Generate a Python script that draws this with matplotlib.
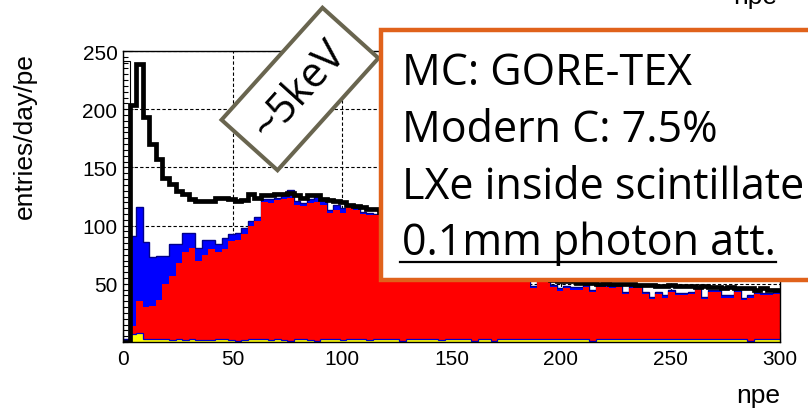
import numpy as np
import matplotlib
matplotlib.use('Agg')
import matplotlib.pyplot as plt
from matplotlib.patches import Rectangle
from matplotlib.lines import Line2D
from matplotlib.ticker import MultipleLocator

plt.rcParams['font.family'] = 'Liberation Sans'

# npe spectrum, 100 bins of 3 pe from 0 to 300
edges = np.arange(0, 301, 3)

# total (thick black line)
total = [
    0, 204, 239, 193, 170, 157, 141, 136, 130, 127,
    123, 121, 121, 121, 124, 124, 123, 121, 122, 127,
    124, 126, 126, 127, 127, 128, 126, 124, 126, 126,
    123, 122, 121, 120, 118, 117, 116, 114, 114, 112,
    110, 107, 104, 101, 98, 95, 92, 89, 86, 83,
    80, 78, 75, 72, 70, 67, 65, 63, 61, 59,
    58, 57, 56, 55, 54, 53, 52, 52, 52, 51,
    51, 51, 50, 51, 50, 50, 50, 50, 49, 49,
    49, 48, 48, 49, 48, 48, 48, 47, 48, 47,
    47, 46, 47, 46, 46, 46, 45, 46, 45, 45,
]

# blue component
blue = [
    3, 91, 116, 86, 73, 74, 74, 84, 84, 94,
    94, 81, 88, 88, 84, 89, 93, 94, 98, 104,
    107, 123, 123, 124, 126, 131, 121, 119, 123, 126,
    122, 113, 118, 115, 118, 115, 112, 111, 110, 110,
    108, 105, 102, 99, 96, 93, 90, 87, 84, 81,
    78, 76, 73, 70, 68, 65, 63, 61, 59, 58,
    57, 56, 48, 55, 54, 49, 46, 48, 47, 47,
    49, 45, 49, 49, 48, 49, 43, 48, 48, 43,
    39, 43, 40, 45, 42, 42, 43, 48, 39, 45,
    45, 40, 40, 45, 38, 40, 43, 42, 42, 43,
]

# red component
red = [
    0, 14, 35, 30, 31, 36, 50, 57, 68, 77,
    81, 70, 75, 80, 77, 80, 87, 88, 93, 100,
    104, 120, 119, 122, 123, 124, 118, 117, 119, 120,
    118, 111, 113, 111, 116, 113, 110, 109, 109, 108,
    106, 103, 100, 97, 94, 91, 88, 85, 82, 79,
    76, 74, 71, 68, 66, 63, 61, 59, 57, 56,
    55, 54, 46, 53, 52, 47, 44, 46, 45, 45,
    47, 43, 47, 47, 46, 47, 41, 46, 46, 41,
    37, 41, 38, 43, 40, 40, 41, 46, 37, 43,
    43, 38, 38, 43, 36, 38, 41, 40, 40, 41,
]

# yellow component
yellow = [
    0, 7, 8, 3, 3, 2.5, 2.5, 2, 2.5, 2,
    2.5, 2, 2, 2, 2.5, 2.5, 2, 1, 2, 2.5,
    2.5, 2.5, 2, 2.5, 2, 1, 2.5, 2.5, 2, 1,
    2.5, 2.5, 2.5, 2, 2.5, 2.5, 2.5, 2, 2.5, 2.5,
    2.5, 2.5, 1, 2.5, 2.5, 2.5, 2.5, 2.5, 2, 2.5,
    2.5, 2.5, 2.5, 1, 2.5, 2.5, 1, 2.5, 2.5, 2.5,
    2.5, 2.5, 2.5, 2.5, 2.5, 2.5, 2.5, 2.5, 2.5, 2.5,
    2.5, 1, 2.5, 2.5, 2.5, 2.5, 2.5, 2.5, 2.5, 2.5,
    2.5, 2.5, 2.5, 2.5, 2.5, 2.5, 2.5, 2.5, 2.5, 2.5,
    2.5, 2.5, 2.5, 2.5, 2.5, 1, 2.5, 2.5, 2.5, 2.5,
]

# first-bin outline
first_bin = [241]

box_lines = ['MC: GORE-TEX', 'Modern C: 7.5%', 'LXe inside scintillate', '0.1mm photon att.']

W, H = 808, 414
fig = plt.figure(figsize=(W / 100, H / 100), dpi=100)
ax = fig.add_axes([123 / W, 1 - 343 / H, 657 / W, 291 / H])

ax.stairs(blue, edges, fill=True, color='#0000ff', zorder=2)
ax.stairs(blue, edges, color='#00008b', lw=1.0, baseline=None, zorder=2.1)
ax.stairs(red, edges, fill=True, color='#ff0000', zorder=2.2)
ax.stairs(yellow, edges, fill=True, color='#ffff00', zorder=2.3)
ax.stairs(yellow, edges, color='#0000cc', lw=0.9, baseline=None, zorder=2.4)
ax.stairs(first_bin, edges[:2], color='k', lw=0.8, zorder=2.5)
ax.stairs(total, edges, color='k', lw=3.4, baseline=None, zorder=3)

ax.set_xlim(0, 300)
ax.set_ylim(0, 250)
ax.set_axisbelow(True)
ax.grid(True, which='major', color='k', lw=0.8, linestyle=(0, (3, 2)))
ax.set_xticks(range(0, 301, 50))
ax.set_yticks(range(50, 251, 50))
ax.xaxis.set_minor_locator(MultipleLocator(10))
ax.yaxis.set_minor_locator(MultipleLocator(5))
ax.tick_params(which='major', direction='in', length=7, width=0.8, labelsize=15)
ax.tick_params(which='minor', direction='in', length=3.5, width=0.8)
ax.tick_params(axis='x', pad=5)
ax.tick_params(axis='y', pad=4)
for s in ax.spines.values():
    s.set_linewidth(1.0)

fig.text(25 / W, 1 - 53 / H, 'entries/day/pe', rotation=90, ha='center', va='top', fontsize=19)
fig.text(780 / W, 1 - 403 / H, 'npe', ha='right', va='baseline', fontsize=19)
fig.text(777 / W, 1 - 4 / H, 'npe', ha='right', va='baseline', fontsize=19)

# tilted energy marker
fig.text(300 / W, 1 - 90 / H, '~5keV', rotation=48, rotation_mode='anchor',
         ha='center', va='center', fontsize=30, family='Open Sans', zorder=9,
         bbox=dict(boxstyle='square,pad=0.4', fc='white', ec='#69654f', lw=2.9))

# simulation settings box
fig.add_artist(Rectangle((381 / W, 1 - 281 / H), (900 - 381) / W, 250 / H,
                         transform=fig.transFigure, fc='white', ec='#e0621b',
                         lw=3.2, zorder=10))
baselines = [85, 142, 199, 255]
texts = []
for line, yb in zip(box_lines, baselines):
    texts.append(fig.text(402 / W, 1 - yb / H, line, ha='left', va='baseline',
                          fontsize=31, family='Open Sans', zorder=11))

fig.canvas.draw()
bb = texts[-1].get_window_extent()
uy = 1 - 263 / H
fig.add_artist(Line2D([(bb.x0 - 2) / W, bb.x1 / W], [uy, uy], transform=fig.transFigure,
                      color='k', lw=1.6, zorder=11))

fig.savefig('out.png', dpi=100)
